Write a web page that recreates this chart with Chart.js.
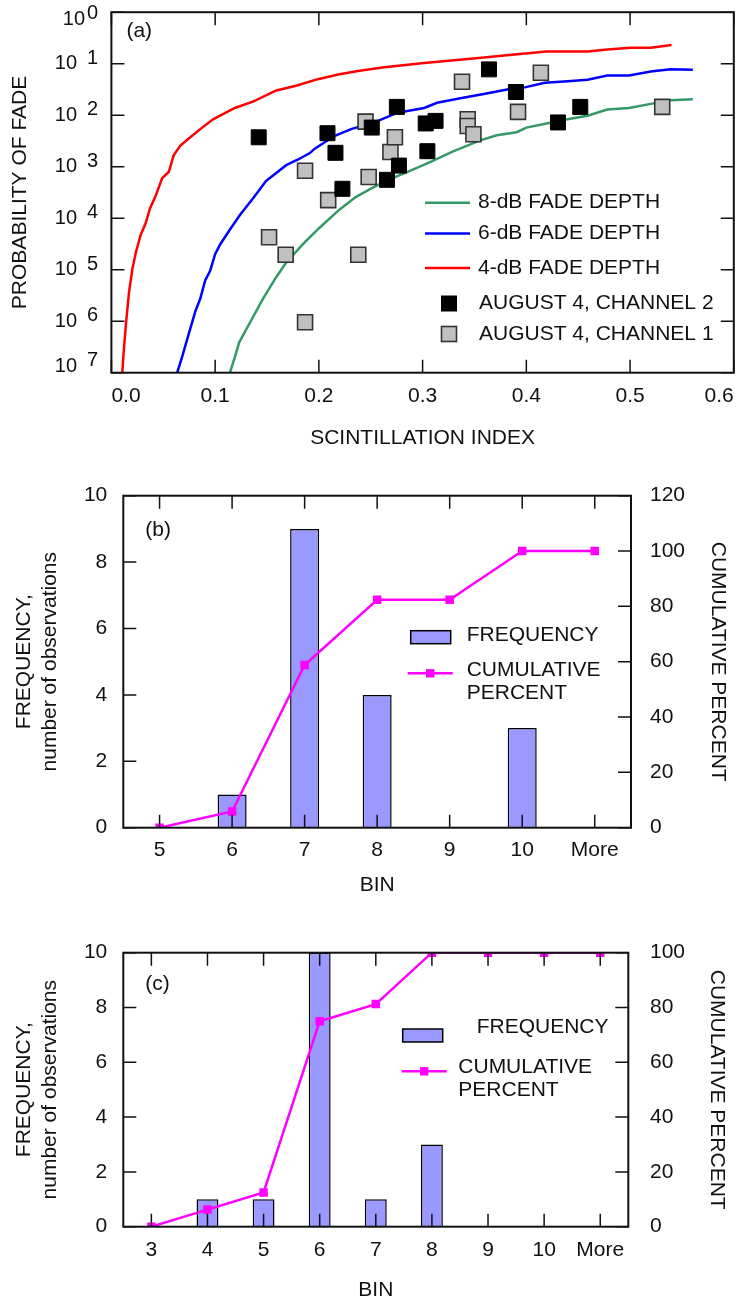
<!DOCTYPE html>
<html>
<head>
<meta charset="utf-8">
<title>Fade probability and bin histograms</title>
<script src="https://cdn.jsdelivr.net/npm/chart.js@4/dist/chart.umd.min.js"></script>
<style>
  html, body { margin: 0; padding: 0; background: #fff; }
  body { width: 746px; height: 1303px; position: relative; overflow: hidden; }
  .panel { position: absolute; left: 0; width: 746px; }
  #pa { top: 0; height: 460px; }
  #pb { top: 460px; height: 440px; }
  #pc { top: 900px; height: 403px; }
  canvas { display: block; }
</style>
</head>
<body>
<div class="panel" id="pa"><canvas id="ca" width="746" height="460"></canvas></div>
<div class="panel" id="pb"><canvas id="cb" width="746" height="440"></canvas></div>
<div class="panel" id="pc"><canvas id="cc" width="746" height="403"></canvas></div>
<script>
// ---------- Panel (a): probability of fade vs scintillation index ----------
const siFade4 = [0.0105, 0.0117, 0.014, 0.017, 0.0203, 0.0235, 0.0283, 0.033, 0.0372, 0.0426, 0.049, 0.0554, 0.060, 0.0665, 0.076, 0.0857, 0.098, 0.119, 0.137, 0.159, 0.178, 0.199, 0.2186, 0.2377, 0.263, 0.3015, 0.333, 0.359, 0.391, 0.4195, 0.440, 0.459, 0.478, 0.5006, 0.520, 0.540];
const pFade4  = [1.0e-7, 2.34e-7, 8.71e-7, 3.72e-6, 1.05e-5, 2.14e-5, 4.79e-5, 7.94e-5, 1.55e-4, 2.69e-4, 6.03e-4, 7.94e-4, 1.66e-3, 2.57e-3, 3.72e-3, 5.37e-3, 8.32e-3, 1.38e-2, 1.86e-2, 3.02e-2, 3.72e-2, 5.01e-2, 6.17e-2, 7.24e-2, 8.51e-2, 0.1035, 0.118, 0.132, 0.153, 0.172, 0.172, 0.172, 0.188, 0.205, 0.205, 0.231];

const siFade6 = [0.0634, 0.0681, 0.0745, 0.0809, 0.0857, 0.0904, 0.0952, 0.100, 0.1048, 0.1143, 0.1239, 0.1366, 0.149, 0.1685, 0.180, 0.191, 0.196, 0.2154, 0.231, 0.2536, 0.2759, 0.3015, 0.314, 0.3364, 0.359, 0.384, 0.3986, 0.4177, 0.440, 0.459, 0.478, 0.499, 0.520, 0.539, 0.5605];
const pFade6  = [1.0e-7, 2.0e-7, 5.62e-7, 1.55e-6, 2.75e-6, 6.17e-6, 9.55e-6, 2.0e-5, 3.09e-5, 6.03e-5, 1.15e-4, 2.45e-4, 5.25e-4, 1.07e-3, 1.38e-3, 1.82e-3, 2.24e-3, 3.98e-3, 5.37e-3, 7.24e-3, 1.12e-2, 1.38e-2, 1.74e-2, 2.14e-2, 2.57e-2, 3.24e-2, 3.47e-2, 4.27e-2, 4.57e-2, 4.90e-2, 5.89e-2, 5.89e-2, 7.08e-2, 7.76e-2, 7.59e-2];

const siFade8 = [0.1143, 0.119, 0.1232, 0.1335, 0.1462, 0.159, 0.1685, 0.1844, 0.2004, 0.2195, 0.2355, 0.248, 0.263, 0.2855, 0.3077, 0.330, 0.3555, 0.3715, 0.3906, 0.400, 0.4195, 0.437, 0.459, 0.478, 0.499, 0.520, 0.539, 0.5605];
const pFade8  = [1.0e-7, 2.0e-7, 3.89e-7, 9.33e-7, 2.75e-6, 7.24e-6, 1.38e-5, 3.09e-5, 6.46e-5, 1.45e-4, 2.57e-4, 3.55e-4, 5.13e-4, 7.94e-4, 1.24e-3, 2.0e-3, 3.24e-3, 4.07e-3, 4.68e-3, 5.75e-3, 6.92e-3, 8.13e-3, 9.77e-3, 1.29e-2, 1.38e-2, 1.66e-2, 1.95e-2, 2.04e-2];

// measured events, August 4
const siCh2 = [0.142, 0.2083, 0.216, 0.2227, 0.251, 0.2752, 0.2657, 0.2772, 0.303, 0.3125, 0.3046, 0.364, 0.390, 0.4305, 0.452];
const pCh2  = [3.72e-3, 4.47e-3, 1.86e-3, 3.72e-4, 5.75e-3, 1.45e-2, 5.56e-4, 1.05e-3, 6.92e-3, 7.76e-3, 2.0e-3, 7.76e-2, 2.82e-2, 7.24e-3, 1.45e-2];
const siCh1 = [0.152, 0.168, 0.1867, 0.1867, 0.209, 0.238, 0.245, 0.248, 0.269, 0.2733, 0.338, 0.3435, 0.3435, 0.349, 0.392, 0.414, 0.531];
const pCh1  = [4.27e-5, 1.95e-5, 9.55e-7, 8.32e-4, 2.24e-4, 1.95e-5, 7.50e-3, 6.31e-4, 1.93e-3, 3.72e-3, 4.47e-2, 8.32e-3, 6.17e-3, 4.27e-3, 1.16e-2, 6.68e-2, 1.45e-2];

// decade ticks of the probability axis and the superscripts printed beside "10"
const decadeExponents = [0, -1, -2, -3, -4, -5, -6, -7];
const decadeSup = ['0', '1', '2', '3', '4', '5', '6', '7'];

// ---------- Panel (b) ----------
const binsB = ['5', '6', '7', '8', '9', '10', 'More'];
const freqB = [0, 1, 9, 4, 0, 3, 0];
const cumB  = [0, 5.88, 58.82, 82.35, 82.35, 100, 100];

// ---------- Panel (c) ----------
const binsC = ['3', '4', '5', '6', '7', '8', '9', '10', 'More'];
const freqC = [0, 1, 1, 10, 1, 3, 0, 0, 0];
const cumC  = [0, 6.25, 12.5, 75, 81.25, 100, 100, 100, 100];

// ---------- shared styling ----------
const FONT = '"Liberation Sans", Arial, Helvetica, sans-serif';
const INK = '#111';
Chart.defaults.font.family = FONT;
Chart.defaults.font.size = 21;
Chart.defaults.color = INK;

const toPoints = (xs, ys) => xs.map((x, i) => ({ x, y: ys[i] }));
const noGrid = { display: false, drawTicks: false };
const noBorder = { display: false };

// Box around the plot plus short tick marks pointing inward on all four sides.
const frameTicks = {
  id: 'frameTicks',
  afterDraw(chart, args, opts) {
    const { ctx, chartArea: a } = chart;
    const len = opts.len || 13;
    ctx.save();
    ctx.strokeStyle = INK;
    ctx.lineWidth = 1.5;
    ctx.beginPath();
    (opts.xPix ? opts.xPix(chart) : []).forEach(px => {
      ctx.moveTo(px, a.top); ctx.lineTo(px, a.top + len);
      ctx.moveTo(px, a.bottom); ctx.lineTo(px, a.bottom - len);
    });
    (opts.leftPix ? opts.leftPix(chart) : []).forEach(py => {
      ctx.moveTo(a.left, py); ctx.lineTo(a.left + len, py);
    });
    (opts.rightPix ? opts.rightPix(chart) : []).forEach(py => {
      ctx.moveTo(a.right, py); ctx.lineTo(a.right - len, py);
    });
    ctx.stroke();
    ctx.lineWidth = 2;
    ctx.strokeRect(a.left, a.top, a.right - a.left, a.bottom - a.top);
    ctx.restore();
  }
};

// Free text and legend drawn inside each panel.
const decor = {
  id: 'decor',
  afterDraw(chart, args, opts) {
    if (opts.draw) {
      const ctx = chart.ctx;
      ctx.save();
      ctx.fillStyle = INK;
      ctx.textBaseline = 'middle';
      ctx.font = '21px ' + FONT;
      opts.draw(chart, ctx);
      ctx.restore();
    }
  }
};

const tickPixels = scale => scale.ticks.map((t, i) => scale.getPixelForTick(i));

// ---------- chart (a) ----------
new Chart(document.getElementById('ca'), {
  type: 'line',
  data: {
    datasets: [
      { label: 'AUGUST 4, CHANNEL 2', data: toPoints(siCh2, pCh2), showLine: false,
        pointStyle: 'rect', pointRadius: 10.6, pointBackgroundColor: '#000', pointBorderColor: '#000',
        pointBorderWidth: 1, order: 0 },
      { label: 'AUGUST 4, CHANNEL 1', data: toPoints(siCh1, pCh1), showLine: false,
        pointStyle: 'rect', pointRadius: 10.6, pointBackgroundColor: '#c0c0c0', pointBorderColor: '#333',
        pointBorderWidth: 1.6, order: 1 },
      { label: '8-dB FADE DEPTH', data: toPoints(siFade8, pFade8), borderColor: '#339966',
        borderWidth: 2.5, pointRadius: 0, tension: 0, order: 2 },
      { label: '6-dB FADE DEPTH', data: toPoints(siFade6, pFade6), borderColor: '#0000ff',
        borderWidth: 2.5, pointRadius: 0, tension: 0, order: 3 },
      { label: '4-dB FADE DEPTH', data: toPoints(siFade4, pFade4), borderColor: '#ff0000',
        borderWidth: 2.5, pointRadius: 0, tension: 0, order: 4 }
    ]
  },
  options: {
    responsive: false,
    animation: false,
    events: [],
    layout: { padding: { top: 4.5, right: 7, left: 0, bottom: 0 } },
    scales: {
      x: {
        type: 'linear', min: 0, max: 0.6,
        grid: noGrid, border: noBorder,
        ticks: { stepSize: 0.1, align: 'inner', padding: 11.4, callback: v => Number(v).toFixed(1) },
        title: { display: true, text: 'SCINTILLATION INDEX', padding: { top: 0, bottom: 9.4 } },
        afterFit: s => { s.height = 87.3; s.paddingLeft = 0; s.paddingRight = 0; }
      },
      y: {
        type: 'logarithmic', min: 1e-7, max: 1,
        grid: noGrid, border: noBorder,
        ticks: { display: false },
        title: { display: true, text: 'PROBABILITY OF FADE', padding: { top: 8.1, bottom: 0 } },
        afterFit: s => { s.width = 111.4; }
      }
    },
    plugins: {
      legend: { display: false },
      tooltip: { enabled: false },
      frameTicks: {
        xPix: c => tickPixels(c.scales.x),
        leftPix: c => decadeExponents.map(e => c.scales.y.getPixelForValue(Math.pow(10, e))),
        rightPix: c => decadeExponents.map(e => c.scales.y.getPixelForValue(Math.pow(10, e)))
      },
      decor: {
        draw(chart, ctx) {
          const a = chart.chartArea;
          const ys = chart.scales.y;
          // decade labels: "10" with the exponent digit raised
          ctx.font = '20px ' + FONT;
          decadeExponents.forEach((e, i) => {
            const py = Math.min(Math.max(ys.getPixelForValue(Math.pow(10, e)), 19), 366);
            ctx.textAlign = 'right';
            ctx.fillText('10', e === 0 ? 85 : 77, py);
            ctx.textAlign = 'left';
            ctx.fillText(decadeSup[i], 87, py - 5.5);
          });
          ctx.font = '21px ' + FONT;
          ctx.textAlign = 'left';
          ctx.fillText('(a)', a.left + 15, 31);
          // legend
          const ds = chart.data.datasets;
          [[2, 202.7], [3, 233.5], [4, 268]].forEach(([i, y]) => {
            ctx.strokeStyle = ds[i].borderColor;
            ctx.lineWidth = 2.5;
            ctx.beginPath(); ctx.moveTo(425, y); ctx.lineTo(470, y); ctx.stroke();
            ctx.fillText(ds[i].label, 478, y);
          });
          [[0, 303.5], [1, 334]].forEach(([i, y]) => {
            ctx.fillStyle = ds[i].pointBackgroundColor;
            ctx.fillRect(441.5, y - 7.5, 15, 15);
            ctx.strokeStyle = ds[i].pointBorderColor;
            ctx.lineWidth = ds[i].pointBorderWidth;
            ctx.strokeRect(441.5, y - 7.5, 15, 15);
            ctx.fillStyle = INK;
            ctx.fillText(ds[i].label, 479, y);
          });
        }
      }
    }
  },
  plugins: [frameTicks, decor]
});

// ---------- histogram panels (b) and (c) ----------
function histogram(canvasId, bins, freq, cum, g) {
  return new Chart(document.getElementById(canvasId), {
    type: 'bar',
    data: {
      labels: bins,
      datasets: [
        { type: 'line', label: 'CUMULATIVE PERCENT', data: cum, yAxisID: 'y2',
          borderColor: '#ff00ff', backgroundColor: '#ff00ff', borderWidth: 2.5,
          pointStyle: 'rect', pointRadius: 6, pointBorderWidth: 0, tension: 0, order: 0 },
        { type: 'bar', label: 'FREQUENCY', data: freq, yAxisID: 'y',
          backgroundColor: '#9999ff', borderColor: '#000', borderWidth: 1.5,
          barPercentage: g.barPct, categoryPercentage: 1, order: 1 }
      ]
    },
    options: {
      responsive: false,
      animation: false,
      events: [],
      layout: { padding: { top: g.top, right: 0, left: 0, bottom: 0 } },
      scales: {
        x: {
          grid: noGrid, border: noBorder,
          ticks: { padding: g.xTickPad },
          title: { display: true, text: 'BIN', padding: { top: 0, bottom: g.binPad } },
          afterFit: s => { s.height = g.xHeight; s.paddingLeft = 0; s.paddingRight = 0; }
        },
        y: {
          position: 'left', min: 0, max: 10,
          grid: noGrid, border: noBorder,
          ticks: { stepSize: 2, padding: 16 },
          title: { display: true, text: ['FREQUENCY,', 'number of observations'],
                   font: { size: 21, lineHeight: 1.25 }, padding: { top: 11, bottom: 0 } },
          afterFit: s => { s.width = 123.3; }
        },
        y2: {
          position: 'right', min: 0, max: g.cumMax,
          grid: noGrid, border: noBorder,
          ticks: { stepSize: 20, padding: g.rightTickPad },
          title: { display: true, text: 'CUMULATIVE PERCENT', padding: { top: g.rightTitlePad, bottom: 0 } },
          afterFit: s => { s.width = g.rightWidth; }
        }
      },
      plugins: {
        legend: { display: false },
        tooltip: { enabled: false },
        frameTicks: {
          len: 13,
          xPix: c => tickPixels(c.scales.x),
          leftPix: c => tickPixels(c.scales.y),
          rightPix: c => tickPixels(c.scales.y2)
        },
        decor: {
          draw(chart, ctx) {
            const a = chart.chartArea;
            const ds = chart.data.datasets;
            ctx.textAlign = 'left';
            ctx.fillText(g.tag, a.left + 22, g.tagY);
            const L = g.legend;
            // bar swatch
            ctx.fillStyle = ds[1].backgroundColor;
            ctx.fillRect(L.rectX, L.rectY, 40, 13);
            ctx.strokeStyle = ds[1].borderColor;
            ctx.lineWidth = 1.5;
            ctx.strokeRect(L.rectX, L.rectY, 40, 13);
            ctx.fillStyle = INK;
            ctx.fillText(ds[1].label, L.freqTextX, L.freqTextY);
            // line swatch
            ctx.strokeStyle = ds[0].borderColor;
            ctx.lineWidth = 2.5;
            ctx.beginPath(); ctx.moveTo(L.lineX0, L.lineY); ctx.lineTo(L.lineX0 + 45, L.lineY); ctx.stroke();
            ctx.fillStyle = ds[0].backgroundColor;
            ctx.fillRect(L.lineX0 + 22.5 - 4.2, L.lineY - 4.2, 8.4, 8.4);
            ctx.fillStyle = INK;
            ds[0].label.split(' ').forEach((w, k) => ctx.fillText(w, L.cumTextX, L.cumTextY + k * 22.6));
          }
        }
      }
    },
    plugins: [frameTicks, decor]
  });
}

histogram('cb', binsB, freqB, cumB, {
  tag: '(b)', tagY: 70.7, top: 35.7, xHeight: 72.3, xTickPad: 9.7, binPad: 2.4,
  rightWidth: 115, rightTickPad: 19, rightTitlePad: 15.4, cumMax: 120, barPct: 0.4,
  legend: { rectX: 410.7, rectY: 170.7, freqTextX: 466.7, freqTextY: 175.7,
            lineX0: 407.7, lineY: 213.3, cumTextX: 466.7, cumTextY: 210.7 }
});

histogram('cc', binsC, freqC, cumC, {
  tag: '(c)', tagY: 84, top: 52.7, xHeight: 76.3, xTickPad: 10.7, binPad: 0,
  rightWidth: 117.7, rightTickPad: 21.7, rightTitlePad: 16.7, cumMax: 100, barPct: 0.39,
  legend: { rectX: 402.7, rectY: 129, freqTextX: 476.7, freqTextY: 127.7,
            lineX0: 401.7, lineY: 171.3, cumTextX: 458.3, cumTextY: 167.3 }
});
</script>
</body>
</html>
